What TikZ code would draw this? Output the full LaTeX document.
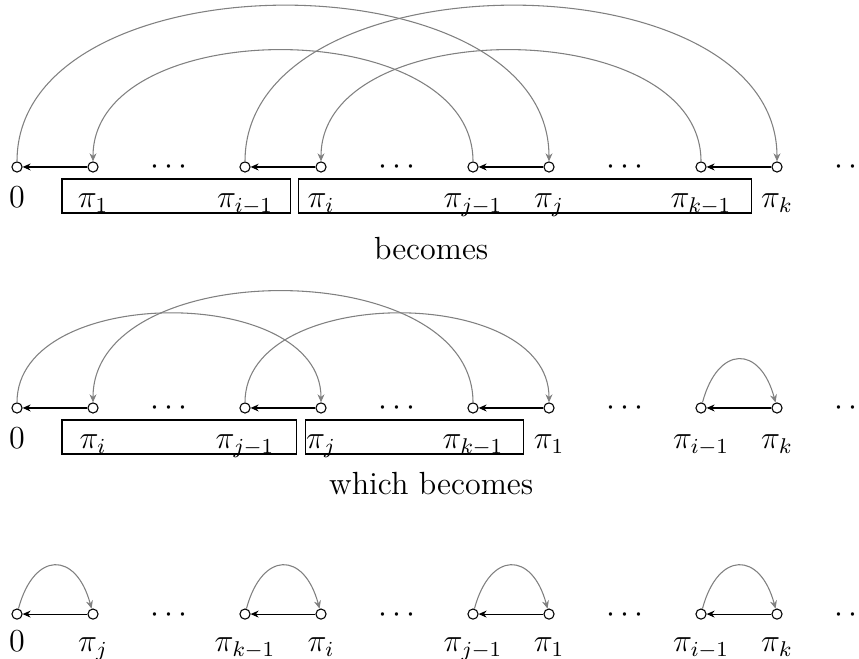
\documentclass[tikz,border=0pt]{standalone}
\usetikzlibrary{arrows.meta}
\begin{document}
\begin{tikzpicture}[
  v/.style={circle,draw,fill=white,inner sep=0pt,minimum size=3.8pt},
  lab/.style={anchor=base,inner sep=0pt,font=\fontsize{12}{14}\selectfont},
  dts/.style={anchor=base,yshift=-3pt,inner sep=0pt,font=\fontsize{12}{14}\selectfont},
  txt/.style={anchor=base,inner sep=0pt,font=\fontsize{12}{14}\selectfont},
  blk/.style={black,-{Stealth[length=3pt,width=2.6pt]}},
  arc/.style={gray,-{Stealth[length=3pt,width=2.6pt]}},
  sarc/.style={arc,out=75,in=105,looseness=2.1},
  lbox/.style={draw}
]
\useasboundingbox (-0.2237,-8.671) rectangle (11.079,0);

% ---------- row 1 ----------
\foreach \n/\x in {0/0,1/1,2/3,3/4,4/6,5/7,6/9,7/10}
  \node[v] (p\n) at (\x,-2.197) {};
\foreach \n/\x in {1/2,2/5,3/8,4/11}
  \node[dts] (pd\n) at (\x,-2.197) {$\cdots$};
\node[lab] (pl0) at (0,-2.727) {$0$};
\node[lab] (pl1) at (1,-2.727) {$\pi_1$};
\node[lab] (pl2) at (3,-2.727) {$\pi_{i-1}$};
\node[lab] (pl3) at (4,-2.727) {$\pi_i$};
\node[lab] (pl4) at (6,-2.727) {$\pi_{j-1}$};
\node[lab] (pl5) at (7,-2.727) {$\pi_j$};
\node[lab] (pl6) at (9,-2.727) {$\pi_{k-1}$};
\node[lab] (pl7) at (10,-2.727) {$\pi_k$};
\draw[lbox] (0.592,-2.355) rectangle (3.60,-2.803);
\draw[lbox] (3.70,-2.355) rectangle (9.67,-2.803);
\draw[blk] (p1) -- (p0);
\draw[blk] (p3) -- (p2);
\draw[blk] (p5) -- (p4);
\draw[blk] (p7) -- (p6);
\draw[arc] (p0) to[out=90,in=90] (p5);
\draw[arc] (p2) to[out=90,in=90] (p7);
\draw[arc] (p4) to[out=90,in=90] (p1);
\draw[arc] (p6) to[out=90,in=90] (p3);

\node[txt] (t1) at (5.45,-3.421) {becomes};

% ---------- row 2 ----------
\foreach \n/\x in {0/0,1/1,2/3,3/4,4/6,5/7,6/9,7/10}
  \node[v] (q\n) at (\x,-5.368) {};
\foreach \n/\x in {1/2,2/5,3/8,4/11}
  \node[dts] (qd\n) at (\x,-5.368) {$\cdots$};
\node[lab] (ql0) at (0,-5.898) {$0$};
\node[lab] (ql1) at (1,-5.898) {$\pi_i$};
\node[lab] (ql2) at (3,-5.898) {$\pi_{j-1}$};
\node[lab] (ql3) at (4,-5.898) {$\pi_j$};
\node[lab] (ql4) at (6,-5.898) {$\pi_{k-1}$};
\node[lab] (ql5) at (7,-5.898) {$\pi_1$};
\node[lab] (ql6) at (9,-5.898) {$\pi_{i-1}$};
\node[lab] (ql7) at (10,-5.898) {$\pi_k$};
\draw[lbox] (0.592,-5.526) rectangle (3.68,-5.974);
\draw[lbox] (3.79,-5.526) rectangle (6.67,-5.974);
\draw[blk] (q1) -- (q0);
\draw[blk] (q3) -- (q2);
\draw[blk] (q5) -- (q4);
\draw[blk] (q7) -- (q6);
\draw[arc] (q0) to[out=90,in=90] (q3);
\draw[arc] (q2) to[out=90,in=90] (q5);
\draw[arc] (q4) to[out=90,in=90] (q1);
\draw[sarc] (q6) to (q7);

\node[txt] (t2) at (5.45,-6.513) {which becomes};

% ---------- row 3 ----------
\foreach \n/\x in {0/0,1/1,2/3,3/4,4/6,5/7,6/9,7/10}
  \node[v] (r\n) at (\x,-8.08) {};
\foreach \n/\x in {1/2,2/5,3/8,4/11}
  \node[dts] (rd\n) at (\x,-8.08) {$\cdots$};
\node[lab] (rl0) at (0,-8.57) {$0$};
\node[lab] (rl1) at (1,-8.57) {$\pi_j$};
\node[lab] (rl2) at (3,-8.57) {$\pi_{k-1}$};
\node[lab] (rl3) at (4,-8.57) {$\pi_i$};
\node[lab] (rl4) at (6,-8.57) {$\pi_{j-1}$};
\node[lab] (rl5) at (7,-8.57) {$\pi_1$};
\node[lab] (rl6) at (9,-8.57) {$\pi_{i-1}$};
\node[lab] (rl7) at (10,-8.57) {$\pi_k$};
\draw[blk] (r1) -- (r0);
\draw[blk] (r3) -- (r2);
\draw[blk] (r5) -- (r4);
\draw[blk] (r7) -- (r6);
\draw[sarc] (r0) to (r1);
\draw[sarc] (r2) to (r3);
\draw[sarc] (r4) to (r5);
\draw[sarc] (r6) to (r7);
\end{tikzpicture}
\end{document}
